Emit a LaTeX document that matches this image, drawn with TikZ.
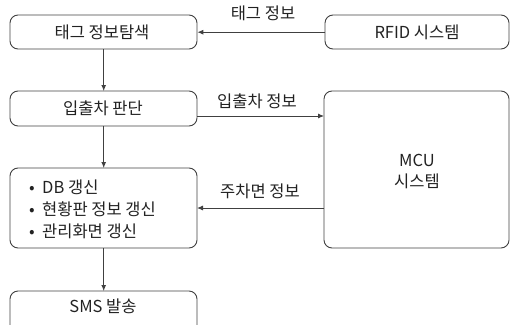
\documentclass[tikz,border=0pt]{standalone}
\usepackage{fontspec}
\setmainfont{Noto Sans CJK KR}
\usetikzlibrary{arrows.meta}
\definecolor{ln}{HTML}{404040}
\definecolor{tx}{HTML}{222222}
\newcommand{\mybul}{\makebox[13pt][l]{•}}
\tikzset{
  box/.style={draw=ln, line width=0.9pt, rounded corners=8pt, inner sep=0pt},
  lbl/.style={font=\fontsize{16.5}{21}\selectfont, text=tx, inner sep=0pt},
  conn/.style={draw=ln, line width=0.9pt, -{Latex[length=6pt,width=5pt]}},
}
\begin{document}
\begin{tikzpicture}[x=1pt,y=-1pt]
\useasboundingbox (0,0) rectangle (510,324);
\clip (0,0) rectangle (510,324);
% boxes
\draw[box] (10,15) rectangle (197,49);
\node[inner sep=0pt, minimum width=187pt, minimum height=34pt, anchor=north west] (tag) at (10,15) {};
\draw[box] (325,15) rectangle (509,49);
\node[inner sep=0pt, minimum width=184pt, minimum height=34pt, anchor=north west] (rfid) at (325,15) {};
\draw[box] (10,91) rectangle (197,126);
\node[inner sep=0pt, minimum width=187pt, minimum height=35pt, anchor=north west] (io) at (10,91) {};
\draw[box] (324,91) rectangle (509,248);
\node[inner sep=0pt, minimum width=185pt, minimum height=157pt, anchor=north west] (mcu) at (324,91) {};
\draw[box] (10,168) rectangle (197,248);
\node[inner sep=0pt, minimum width=187pt, minimum height=80pt, anchor=north west] (upd) at (10,168) {};
\draw[box] (10,291) rectangle (197,340);
\node[inner sep=0pt, minimum width=187pt, minimum height=49pt, anchor=north west] (sms) at (10,291) {};
% texts
\node[lbl] (tagt) at (102,32) {태그 정보탐색};
\node[lbl] (rfidt) at (417,32) {RFID 시스템};
\node[lbl] (iot) at (103,108) {입출차 판단};
\node[lbl] (mcut1) at (417,160) {MCU};
\node[lbl] (mcut2) at (417,181) {시스템};
\node[lbl, anchor=west] (u1) at (29,187) {\mybul DB 갱신};
\node[lbl, anchor=west] (u2) at (29,209) {\mybul 현황판 정보 갱신};
\node[lbl, anchor=west] (u3) at (29,231) {\mybul 관리화면 갱신};
\node[lbl] (smst) at (103,306) {SMS 발송};
% connectors
\coordinate (c1) at (197,116);
\coordinate (c2) at (324,116);
\coordinate (c3) at (324,208);
\coordinate (c4) at (197,208);
\draw[conn] (rfid.west) -- (tag.east);
\draw[conn] (tag.south) -- (io.north);
\draw[conn] (io.south) -- (upd.north);
\draw[conn] (upd.south) -- (sms.north);
\draw[conn] (c1) -- (c2);
\draw[conn] (c3) -- (c4);
% connector labels
\node[lbl] (l1) at (263,13) {태그 정보};
\node[lbl] (l2) at (257,101) {입출차 정보};
\node[lbl] (l3) at (260,191) {주차면 정보};
\end{tikzpicture}
\end{document}
